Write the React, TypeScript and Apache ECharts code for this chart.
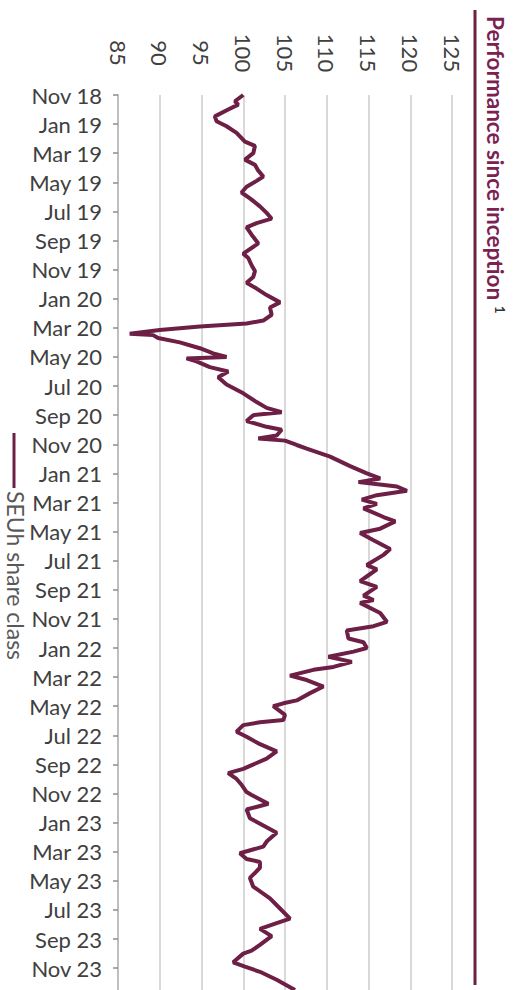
import React, { useEffect, useRef } from "react";
import * as echarts from "echarts";

// months since Nov 2018 (0 = Nov 18)
const months: number[] = [
  0.0, 0.43, 0.66, 1.0, 1.47, 1.8, 2.15, 2.6, 3.2, 3.5, 4.0, 4.44, 4.8, 5.2, 5.6, 5.9,
  6.3, 6.7, 7.1, 7.65, 8.1, 8.5, 8.8, 9.1, 9.6, 10.2, 10.9, 11.2, 11.7, 12.1, 12.5, 12.9,
  13.3, 13.75, 14.25, 14.6, 15.1, 15.5, 15.7, 15.9, 16.15, 16.4, 16.5, 16.7, 17.0, 17.4,
  17.75, 18.0, 18.1, 18.3, 18.7, 19.0, 19.4, 19.9, 20.5, 21.1, 21.5, 21.8, 22.0, 22.4,
  22.8, 23.0, 23.4, 23.6, 23.75, 24.05, 24.3, 24.85, 25.5, 26.0, 26.35, 26.6, 26.9, 27.2,
  27.5, 27.8, 28.1, 28.4, 29.0, 29.3, 29.8, 30.1, 30.6, 31.2, 31.6, 32.3, 32.6, 33.0,
  33.4, 33.8, 34.4, 34.7, 34.9, 35.6, 36.2, 36.5, 36.8, 37.35, 37.6, 38.0, 38.25, 38.6,
  38.95, 39.3, 39.5, 39.9, 40.2, 40.65, 41.1, 41.6, 41.8, 42.0, 42.6, 42.95, 43.1, 43.3,
  43.75, 44.1, 44.55, 45.1, 45.6, 45.9, 46.3, 46.6, 47.0, 47.4, 47.9, 48.1, 48.7, 49.1,
  49.7, 50.2, 50.7, 51.3, 51.65, 52.1, 52.5, 52.7, 53.1, 53.8, 54.4, 55.2, 55.9, 56.6,
  56.9, 57.3, 57.8, 58.4, 58.8, 59.0, 59.6, 59.9, 60.25, 60.8, 61.5,
];

const seuhValues: number[] = [
  100.0, 99.0, 99.4, 98.2, 96.6, 96.8, 98.0, 99.2, 100.2, 101.4, 101.2, 100.2, 101.4, 101.8, 102.4, 101.6,
  100.4, 99.8, 100.8, 102.0, 102.8, 103.4, 101.6, 100.4, 101.0, 101.8, 100.0, 100.6, 101.0, 101.4, 101.2, 100.4,
  101.6, 102.8, 104.4, 103.2, 103.4, 102.4, 100.4, 94.8, 90.0, 86.4, 89.2, 89.8, 92.4, 94.8,
  96.4, 98.0, 93.2, 94.4, 96.0, 98.2, 97.0, 98.0, 100.0, 101.6, 102.8, 104.6, 101.2, 100.4,
  102.8, 104.6, 104.0, 101.8, 105.0, 106.4, 107.6, 110.4, 112.8, 114.8, 116.4, 113.8, 118.4, 119.6,
  116.0, 114.2, 116.0, 114.4, 116.8, 118.2, 116.4, 114.0, 115.6, 117.6, 116.8, 114.8, 116.0, 115.0,
  114.0, 116.0, 114.4, 115.6, 114.0, 116.4, 117.2, 115.6, 112.4, 112.6, 114.4, 114.8, 113.2, 110.2,
  113.0, 110.8, 108.4, 105.6, 107.6, 109.6, 108.0, 106.4, 104.8, 103.6, 105.0, 104.8, 102.0, 100.0,
  99.2, 100.4, 101.8, 104.0, 102.8, 101.6, 100.0, 98.2, 99.2, 99.8, 100.4, 101.0, 103.0, 100.4,
  100.8, 102.4, 104.0, 102.8, 102.4, 99.6, 100.4, 102.0, 102.0, 100.8, 101.2, 103.2, 104.4, 105.6,
  104.0, 102.0, 103.4, 102.0, 101.0, 100.0, 98.8, 100.2, 102.0, 104.0, 106.2,
];

const tickLabels: string[] = [
  "Nov 18", "Jan 19", "Mar 19", "May 19", "Jul 19", "Sep 19",
  "Nov 19", "Jan 20", "Mar 20", "May 20", "Jul 20", "Sep 20",
  "Nov 20", "Jan 21", "Mar 21", "May 21", "Jul 21", "Sep 21",
  "Nov 21", "Jan 22", "Mar 22", "May 22", "Jul 22", "Sep 22",
  "Nov 22", "Jan 23", "Mar 23", "May 23", "Jul 23", "Sep 23", "Nov 23",
];
const tickMonths: number[] = tickLabels.map((_, i) => i * 2);

const valueTicks = { min: 85, max: 125, step: 5 };

const MAROON = "#6d1f45";
const FONT = "Lato";

export default function App() {
  const ref = useRef<HTMLDivElement>(null);

  useEffect(() => {
    if (!ref.current) return;
    const chart = echarts.init(ref.current, null, { renderer: "svg" });
    chart.setOption({
      animation: false,
      backgroundColor: "#ffffff",
      grid: { left: 118, right: 70, top: 95, bottom: 0, containLabel: false },
      xAxis: {
        type: "value",
        position: "top",
        min: valueTicks.min,
        max: valueTicks.max,
        interval: valueTicks.step,
        axisLine: { show: false },
        axisTick: { show: false },
        axisLabel: {
          rotate: -90,
          align: "center",
          verticalAlign: "middle",
          margin: 42,
          fontSize: 22,
          fontFamily: FONT,
          color: "#404040",
        },
        splitLine: { show: true, lineStyle: { color: "#d9d9d9", width: 2 } },
      },
      yAxis: {
        type: "value",
        inverse: true,
        min: 0,
        max: 61.5,
        axisLine: { show: true, lineStyle: { color: "#bfbfbf", width: 2 } },
        axisTick: {
          show: true,
          customValues: tickMonths,
          length: 5,
          lineStyle: { color: "#8c8c8c", width: 1.5 },
        },
        axisLabel: {
          customValues: tickMonths,
          formatter: (v: number) => {
            const idx = Math.round(v / 2);
            return tickLabels[idx] ?? "";
          },
          margin: 16,
          fontSize: 22,
          fontFamily: FONT,
          color: "#404040",
        },
        splitLine: { show: false },
      },
      series: [
        {
          name: "SEUh share class",
          type: "line",
          data: months.map((m, i) => [seuhValues[i], m]),
          showSymbol: false,
          lineStyle: { color: MAROON, width: 4 },
          itemStyle: { color: MAROON },
          clip: true,
        },
      ],
      graphic: [
        {
          type: "line",
          shape: { x1: 475, y1: 10, x2: 475, y2: 985 },
          style: { stroke: MAROON, lineWidth: 3 },
        },
        {
          type: "text",
          x: 495,
          y: 16,
          rotation: -Math.PI / 2,
          style: {
            text: "Performance since inception",
            fontSize: 22.5,
            fontWeight: "bold",
            fontFamily: FONT,
            fill: "#7b2252",
            align: "left",
            verticalAlign: "middle",
          },
        },
        {
          type: "text",
          x: 500,
          y: 306,
          rotation: -Math.PI / 2,
          style: {
            text: "1",
            fontSize: 13,
            fontWeight: "bold",
            fontFamily: FONT,
            fill: "#333333",
            align: "left",
            verticalAlign: "middle",
          },
        },
        {
          type: "line",
          shape: { x1: 14, y1: 433, x2: 14, y2: 488 },
          style: { stroke: MAROON, lineWidth: 3 },
        },
        {
          type: "text",
          x: 16,
          y: 491,
          rotation: -Math.PI / 2,
          style: {
            text: "SEUh share class",
            fontSize: 23,
            fontFamily: FONT,
            fill: "#595959",
            align: "left",
            verticalAlign: "middle",
          },
        },
      ],
    });
    return () => chart.dispose();
  }, []);

  return (
    <div
      ref={ref}
      style={{ position: "fixed", left: 0, top: 0, width: 522, height: 990 }}
    />
  );
}
